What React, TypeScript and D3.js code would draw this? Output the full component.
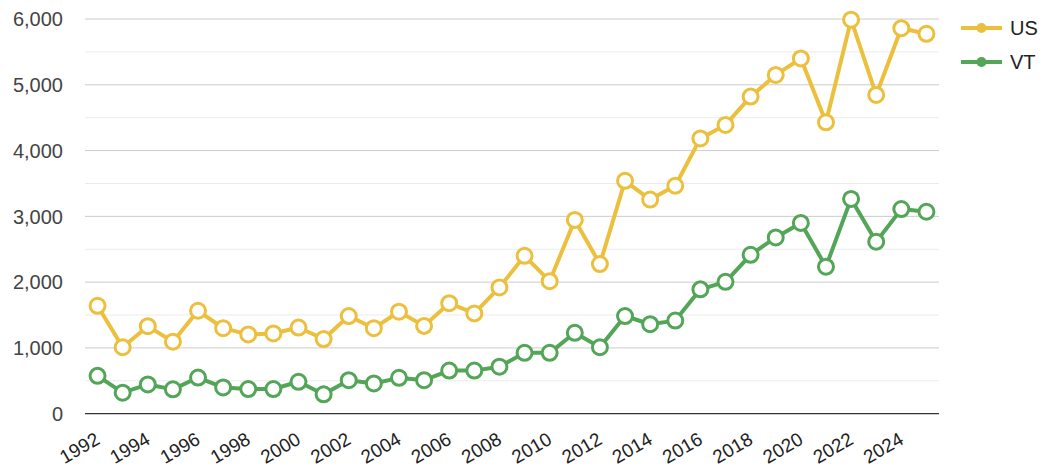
import * as d3 from "d3";
import { useEffect, useRef } from "react";

const years = d3.range(1992, 2026).map(String);
const usValues = [1640, 1010, 1330, 1095, 1565, 1300, 1205, 1220, 1310, 1135, 1485, 1300, 1550, 1335, 1680, 1525, 1920, 2400, 2015, 2945, 2275, 3540, 3255, 3465, 4185, 4390, 4820, 5150, 5400, 4430, 5990, 4845, 5860, 5775];
const vtValues = [575, 320, 445, 370, 550, 400, 375, 375, 485, 295, 510, 460, 545, 510, 655, 655, 715, 925, 925, 1230, 1010, 1485, 1360, 1415, 1890, 2005, 2415, 2680, 2900, 2235, 3265, 2615, 3110, 3070];
const seriesNames = ["US", "VT"];
const seriesColors = ["#ECBF3D", "#53A557"];
const yTicks = [0, 1000, 2000, 3000, 4000, 5000, 6000];
const yMinor = [500, 1500, 2500, 3500, 4500, 5500];

export default function App() {
  const ref = useRef<SVGSVGElement>(null);

  useEffect(() => {
    const svg = d3.select(ref.current);
    svg.selectAll("*").remove();
    const left = 85, right = 939, top = 19, bottom = 413.7;
    const font = "'Liberation Sans', Arial, sans-serif";

    const x = d3.scaleBand().domain(years).range([left, right]);
    const y = d3.scaleLinear().domain([0, 6000]).range([bottom, top]);
    const cx = (d: string) => (x(d) as number) + x.bandwidth() / 2;

    // grid
    svg.append("g").selectAll("line").data(yMinor).enter().append("line")
      .attr("x1", left).attr("x2", right)
      .attr("y1", (d) => y(d)).attr("y2", (d) => y(d))
      .attr("stroke", "#ebebeb").attr("stroke-width", 1);
    svg.append("g").selectAll("line").data(yTicks.slice(1)).enter().append("line")
      .attr("x1", left).attr("x2", right)
      .attr("y1", (d) => y(d)).attr("y2", (d) => y(d))
      .attr("stroke", "#cccccc").attr("stroke-width", 1);
    svg.append("line")
      .attr("x1", left).attr("x2", right)
      .attr("y1", y(0)).attr("y2", y(0))
      .attr("stroke", "#333").attr("stroke-width", 1.2);

    // y labels
    svg.append("g").selectAll("text").data(yTicks).enter().append("text")
      .attr("x", 63).attr("y", (d) => y(d)).attr("dy", "0.36em")
      .attr("text-anchor", "end")
      .style("font-family", font).style("font-size", "20px").style("fill", "#444")
      .text((d) => d3.format(",")(d));

    // x labels
    svg.append("g").selectAll("text").data(years.filter((d, i) => i % 2 === 0)).enter().append("text")
      .attr("transform", (d) => `translate(${cx(d) + 3.5},${443}) rotate(-30)`)
      .attr("text-anchor", "end")
      .style("font-family", font).style("font-size", "19px").style("fill", "#222")
      .text((d) => d);

    const data = [usValues, vtValues];
    const line = d3.line<number>().x((d, i) => cx(years[i])).y((d) => y(d));

    data.forEach((vals, si) => {
      const g = svg.append("g");
      g.append("path").datum(vals).attr("d", line)
        .attr("fill", "none").attr("stroke", seriesColors[si]).attr("stroke-width", 4)
        .attr("stroke-linejoin", "round");
      g.selectAll("circle").data(vals).enter().append("circle")
        .attr("cx", (d, i) => cx(years[i])).attr("cy", (d) => y(d)).attr("r", 7.5)
        .attr("fill", "#fff").attr("stroke", seriesColors[si]).attr("stroke-width", 3);
    });

    // legend
    const legend = svg.append("g").selectAll("g").data(seriesNames).enter().append("g")
      .attr("transform", (d, i) => `translate(961,${28 + i * 34})`);
    legend.append("line").attr("x1", 0).attr("x2", 41)
      .attr("stroke", (d, i) => seriesColors[i]).attr("stroke-width", 4);
    legend.append("circle").attr("cx", 20.5).attr("r", 5)
      .attr("fill", (d, i) => seriesColors[i]);
    legend.append("text").attr("x", 49).attr("dy", "0.36em")
      .style("font-family", font).style("font-size", "20px").style("fill", "#222")
      .text((d) => d);
  }, []);

  return (
    <svg ref={ref} width={1042} height={467}
      style={{ position: "absolute", left: 0, top: 0, background: "#fff" }} />
  );
}
